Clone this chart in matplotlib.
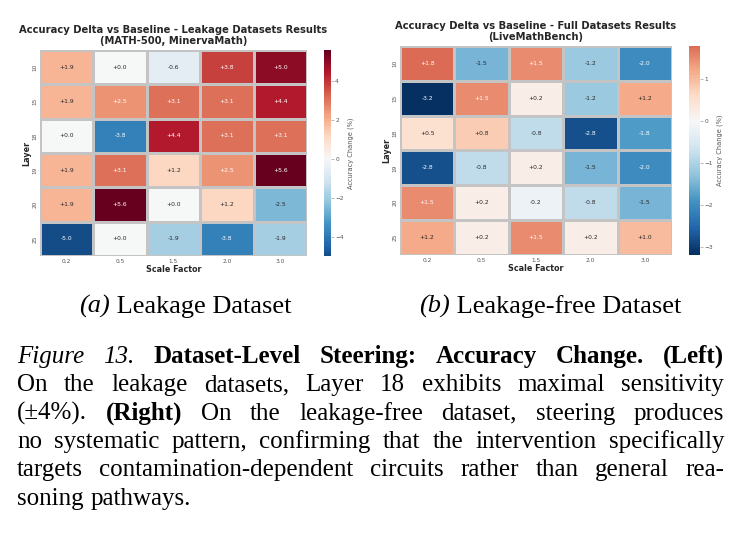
import numpy as np
import matplotlib.pyplot as plt
import seaborn as sns

# Data
layers = ["10", "15", "18", "19", "20", "25"]
scales = ["0.2", "0.5", "1.5", "2.0", "3.0"]

leak_delta = np.array([
    [1.9, 0.0, -0.6, 3.8, 5.0],
    [1.9, 2.5, 3.1, 3.1, 4.4],
    [0.0, -3.8, 4.4, 3.1, 3.1],
    [1.9, 3.1, 1.2, 2.5, 5.6],
    [1.9, 5.6, 0.0, 1.2, -2.5],
    [-5.0, 0.0, -1.9, -3.8, -1.9],
])

full_delta = np.array([
    [1.8, -1.5, 1.5, -1.2, -2.0],
    [-3.2, 1.5, 0.2, -1.2, 1.2],
    [0.5, 0.8, -0.8, -2.8, -1.8],
    [-2.8, -0.8, 0.2, -1.5, -2.0],
    [1.5, 0.2, -0.2, -0.8, -1.5],
    [1.2, 0.2, 1.5, 0.2, 1.0],
])

titles = ["Accuracy Delta vs Baseline - Leakage Datasets Results\n(MATH-500, MinervaMath)",
          "Accuracy Delta vs Baseline - Full Datasets Results\n(LiveMathBench)"]
subcaps = [("(a)", " Leakage Dataset"), ("(b)", " Leakage-free Dataset")]

W, H = 739, 535
fig = plt.figure(figsize=(W / 100, H / 100), dpi=100)


def box(x0, y0, x1, y1):
    # pixel box (top-left origin) -> figure fraction rect
    return [x0 / W, 1 - y1 / H, (x1 - x0) / W, (y1 - y0) / H]


panels = [
    (leak_delta, box(40, 50, 307, 256), box(324, 50, 331, 256), [-4, -2, 0, 2, 4]),
    (full_delta, box(400, 46, 672, 255), box(689, 46, 700, 255), [-3, -2, -1, 0, 1]),
]

for (data, rect, crect, cticks), title in zip(panels, titles):
    ax = fig.add_axes(rect)
    cax = fig.add_axes(crect)
    sns.heatmap(data, ax=ax, cbar_ax=cax, cmap="RdBu_r", center=0,
                annot=True, fmt="+.1f", annot_kws={"size": 4.3},
                linewidths=0.8, linecolor="#c4c4c4",
                xticklabels=scales, yticklabels=layers,
                cbar_kws={"ticks": cticks})
    ax.set_title(title, fontsize=7.2, fontweight="bold", color="#262626", pad=4,
                 linespacing=1.15)
    ax.set_xlabel("Scale Factor", fontsize=5.8, fontweight="bold", color="#262626", labelpad=1)
    ax.set_ylabel("Layer", fontsize=5.8, fontweight="bold", color="#262626", labelpad=1)
    ax.tick_params(length=0, labelsize=4.2, labelcolor="#555555", pad=2)
    plt.setp(ax.get_yticklabels(), rotation=90, va="center")
    cax.tick_params(labelsize=4.2, labelcolor="#555555", length=2, width=0.4,
                    color="#888888", pad=1)
    cax.set_ylabel("Accuracy Change (%)", fontsize=4.8, color="#555555", labelpad=3)
    for s in cax.spines.values():
        s.set_visible(False)

# sub captions
serif = "Liberation Serif"
fig.canvas.draw()
r = fig.canvas.get_renderer()
for (lab, rest), cx in zip(subcaps, [185, 550]):
    t1 = fig.text(0, 0, lab, fontsize=19, family=serif, style="italic")
    t2 = fig.text(0, 0, rest, fontsize=19, family=serif)
    w1 = t1.get_window_extent(r).width
    w2 = t2.get_window_extent(r).width
    x0 = cx - (w1 + w2) / 2
    t1.set_position((x0 / W, 1 - 313 / H))
    t2.set_position(((x0 + w1) / W, 1 - 313 / H))

# justified caption
lines = [
    [("Figure 13.", "italic"), ("Dataset-Level Steering: Accuracy Change.", "bold"), ("(Left)", "bold")],
    [("On the leakage datasets, Layer 18 exhibits maximal sensitivity", "normal")],
    [("(±4%).", "normal"), ("(Right)", "bold"), ("On the leakage-free dataset, steering produces", "normal")],
    [("no systematic pattern, confirming that the intervention specifically", "normal")],
    [("targets contamination-dependent circuits rather than general rea-", "normal")],
    [("soning pathways.", "normal")],
]
fs = 18
left, right = 17, 724
for i, segs in enumerate(lines):
    y = 1 - (363 + 28.3 * i) / H
    words = []
    for txt, st in segs:
        for w in txt.split():
            kw = dict(fontsize=fs, family=serif)
            if st == "italic":
                kw["style"] = "italic"
            elif st == "bold":
                kw["weight"] = "bold"
            words.append(fig.text(0, y, w, **kw))
    widths = [t.get_window_extent(r).width for t in words]
    if i == len(lines) - 1:
        gap = fs * 0.28 * 100 / 72
    else:
        gap = (right - left - sum(widths)) / (len(words) - 1)
    x = left
    for t, wd in zip(words, widths):
        t.set_position((x / W, y))
        x += wd + gap

fig.savefig("out.png", dpi=100)
